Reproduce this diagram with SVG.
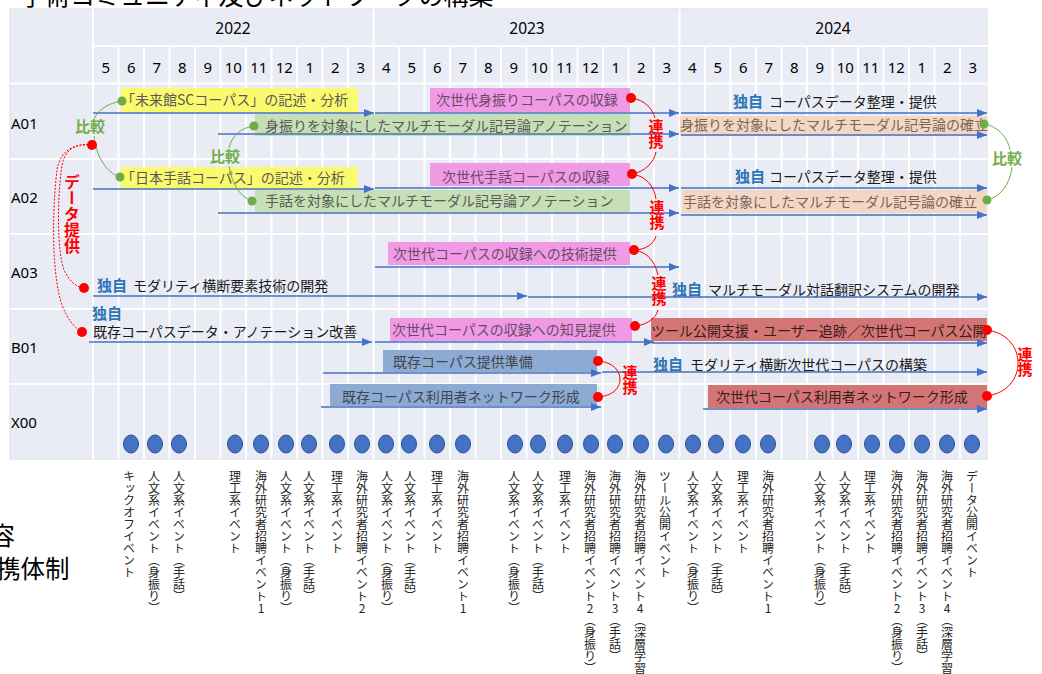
<svg xmlns="http://www.w3.org/2000/svg" width="1042" height="674" viewBox="0 0 1042 674">
<style>
.jp{font-family:"Noto Sans CJK JP","Noto Sans CJK SC",sans-serif}
.num{font-family:"Noto Sans","DejaVu Sans",sans-serif;font-size:15px;fill:#000;text-anchor:middle}
.lbl{font-family:"Noto Sans","DejaVu Sans",sans-serif;font-size:15px;fill:#000}
.bt{font-size:14px;fill:#595959}
.bm{font-size:14px;fill:#6a4a68}
.bp{font-size:14px;fill:#7a6556}
.br{font-size:14px;fill:#3a1c1c}
.bs{font-size:14px;fill:#3f4650}
.dk{font-size:14px;fill:#1a1a1a}
.dok{font-size:15px;font-weight:bold;fill:#2E75B6}
.hk{font-size:15px;font-weight:bold;fill:#70AD47;text-anchor:middle}
.rk{font-size:15px;font-weight:bold;fill:#FF0000;writing-mode:vertical-rl}
.ev{font-size:12px;fill:#262626;writing-mode:vertical-rl;text-orientation:upright}
.ln{stroke:#4472C4;stroke-width:1.5;fill:none;marker-end:url(#ah)}
.gc{fill:none;stroke:#70AD47;stroke-width:1}
.rc{fill:none;stroke:#FF0000;stroke-width:1}
.rd{fill:none;stroke:#FF0000;stroke-width:1;stroke-dasharray:2 1.5}
.gl{stroke:#FFFFFF;stroke-width:2}
.gd{fill:#70AD47}
.rdot{fill:#FF0000}
.evc{fill:#4472C4;stroke:#2F528F;stroke-width:1}
</style>
<defs>
<marker id="ah" viewBox="0 0 10 8" refX="10" refY="4" markerWidth="10" markerHeight="8" markerUnits="userSpaceOnUse" orient="auto"><path d="M0,0 L10,4 L0,8 z" fill="#4472C4"/></marker>
</defs>
<rect width="1042" height="674" fill="#FFFFFF"/>
<!-- cut-off slide texts -->
<text class="jp" x="20" y="5" font-size="25" fill="#000">学術コミュニティ及びネットワークの構築</text>
<text class="jp" x="-10" y="545" font-size="25" fill="#000">容</text>
<text class="jp" x="-4" y="578" font-size="24.5" fill="#000">携体制</text>
<!-- table -->
<g id="table">
<rect x="10" y="9" width="977" height="450" fill="#E9EBF5" stroke="#DCDEE6" stroke-width="1"/>
<g class="gl">
<line x1="93" y1="46" x2="987" y2="46"/>
<line x1="10" y1="83.5" x2="987" y2="83.5"/>
<line x1="10" y1="159" x2="987" y2="159"/>
<line x1="10" y1="234" x2="987" y2="234"/>
<line x1="10" y1="309" x2="987" y2="309"/>
<line x1="10" y1="384" x2="987" y2="384"/>
<line x1="93" y1="9" x2="93" y2="459"/>
<line x1="373.5" y1="9" x2="373.5" y2="459"/>
<line x1="679.5" y1="9" x2="679.5" y2="459"/>
<line x1="118.5" y1="46" x2="118.5" y2="459"/><line x1="144" y1="46" x2="144" y2="459"/><line x1="169.5" y1="46" x2="169.5" y2="459"/><line x1="195" y1="46" x2="195" y2="459"/><line x1="220.5" y1="46" x2="220.5" y2="459"/><line x1="246" y1="46" x2="246" y2="459"/><line x1="271.5" y1="46" x2="271.5" y2="459"/><line x1="297" y1="46" x2="297" y2="459"/><line x1="322.5" y1="46" x2="322.5" y2="459"/><line x1="348" y1="46" x2="348" y2="459"/>
<line x1="399" y1="46" x2="399" y2="459"/><line x1="424.5" y1="46" x2="424.5" y2="459"/><line x1="450" y1="46" x2="450" y2="459"/><line x1="475.5" y1="46" x2="475.5" y2="459"/><line x1="501" y1="46" x2="501" y2="459"/><line x1="526.5" y1="46" x2="526.5" y2="459"/><line x1="552" y1="46" x2="552" y2="459"/><line x1="577.5" y1="46" x2="577.5" y2="459"/><line x1="603" y1="46" x2="603" y2="459"/><line x1="628.5" y1="46" x2="628.5" y2="459"/><line x1="654" y1="46" x2="654" y2="459"/>
<line x1="705" y1="46" x2="705" y2="459"/><line x1="730.5" y1="46" x2="730.5" y2="459"/><line x1="756" y1="46" x2="756" y2="459"/><line x1="781.5" y1="46" x2="781.5" y2="459"/><line x1="807" y1="46" x2="807" y2="459"/><line x1="832.5" y1="46" x2="832.5" y2="459"/><line x1="858" y1="46" x2="858" y2="459"/><line x1="883.5" y1="46" x2="883.5" y2="459"/><line x1="909" y1="46" x2="909" y2="459"/><line x1="934.5" y1="46" x2="934.5" y2="459"/><line x1="960" y1="46" x2="960" y2="459"/>
</g>
<g class="num">
<text x="233" y="34" style="font-size:15.5px">2022</text><text x="527" y="34" style="font-size:15.5px">2023</text><text x="833" y="34" style="font-size:15.5px">2024</text>
<text x="105.8" y="73">5</text><text x="131.3" y="73">6</text><text x="156.8" y="73">7</text><text x="182.3" y="73">8</text><text x="207.8" y="73">9</text><text x="233.3" y="73">10</text><text x="258.8" y="73">11</text><text x="284.3" y="73">12</text><text x="309.8" y="73">1</text><text x="335.3" y="73">2</text><text x="360.8" y="73">3</text>
<text x="386.3" y="73">4</text><text x="411.8" y="73">5</text><text x="437.3" y="73">6</text><text x="462.8" y="73">7</text><text x="488.3" y="73">8</text><text x="513.8" y="73">9</text><text x="539.3" y="73">10</text><text x="564.8" y="73">11</text><text x="590.3" y="73">12</text><text x="615.8" y="73">1</text><text x="641.3" y="73">2</text><text x="666.8" y="73">3</text>
<text x="692.3" y="73">4</text><text x="717.8" y="73">5</text><text x="743.3" y="73">6</text><text x="768.8" y="73">7</text><text x="794.3" y="73">8</text><text x="819.8" y="73">9</text><text x="845.3" y="73">10</text><text x="870.8" y="73">11</text><text x="896.3" y="73">12</text><text x="921.8" y="73">1</text><text x="947.3" y="73">2</text><text x="972.8" y="73">3</text>
</g>
<g class="lbl">
<text x="11" y="129">A01</text>
<text x="11" y="203">A02</text>
<text x="11" y="278">A03</text>
<text x="11" y="353">B01</text>
<text x="11" y="428">X00</text>
</g>
</g>
<!-- task boxes -->
<g id="a01-yellow"><rect x="121" y="88" width="237" height="24" fill="#FAFA6E"/><text class="jp bt" x="121" y="105">「未来館SCコーパス」の記述・分析</text></g>
<g id="a01-green"><rect x="255" y="114" width="375" height="22" fill="#C6DFB4"/><text class="jp bt" x="265" y="131">身振りを対象にしたマルチモーダル記号論アノテーション</text></g>
<g id="a01-magenta"><rect x="430" y="88" width="200" height="24" fill="#F09AE6"/><text class="jp bm" x="436" y="105">次世代身振りコーパスの収録</text></g>
<g id="a01-peach"><rect x="680" y="116" width="307" height="20" fill="#F4D6C4"/><text class="jp bp" x="680" y="130">身振りを対象にしたマルチモーダル記号論の確立</text></g>
<g id="a02-yellow"><rect x="121" y="167" width="237" height="23" fill="#FAFA6E"/><text class="jp bt" x="121" y="183">「日本手話コーパス」の記述・分析</text></g>
<g id="a02-green"><rect x="255" y="190" width="375" height="22" fill="#C6DFB4"/><text class="jp bt" x="265" y="206">手話を対象にしたマルチモーダル記号論アノテーション</text></g>
<g id="a02-magenta"><rect x="430" y="163" width="200" height="23" fill="#F09AE6"/><text class="jp bm" x="442" y="182">次世代手話コーパスの収録</text></g>
<g id="a02-peach"><rect x="682" y="190" width="304" height="23" fill="#F4D6C4"/><text class="jp bp" x="683" y="207">手話を対象にしたマルチモーダル記号論の確立</text></g>
<g id="a03-magenta"><rect x="388" y="242" width="242" height="23" fill="#F09AE6"/><text class="jp bm" x="393" y="259">次世代コーパスの収録への技術提供</text></g>
<g id="b01-magenta"><rect x="390" y="318" width="242" height="23" fill="#F09AE6"/><text class="jp bm" x="392" y="335">次世代コーパスの収録への知見提供</text></g>
<g id="b01-red"><rect x="651" y="318" width="336" height="23" fill="#D47575"/><text class="jp br" x="651" y="336">ツール公開支援・ユーザー追跡／次世代コーパス公開</text></g>
<g id="b01-steel"><rect x="383" y="350" width="214" height="22" fill="#8DAAD3"/><text class="jp bs" x="393" y="367">既存コーパス提供準備</text></g>
<g id="x00-steel"><rect x="330" y="384" width="267" height="22" fill="#8DAAD3"/><text class="jp bs" x="342" y="402">既存コーパス利用者ネットワーク形成</text></g>
<g id="x00-red"><rect x="708" y="385" width="279" height="23" fill="#D47575"/><text class="jp br" x="716" y="402">次世代コーパス利用者ネットワーク形成</text></g>
<!-- independent labels -->
<g id="a01-own"><text class="jp dok" x="733" y="107">独自</text><text class="jp dk" x="769" y="107">コーパスデータ整理・提供</text></g>
<g id="a02-own"><text class="jp dok" x="735" y="182">独自</text><text class="jp dk" x="769" y="182">コーパスデータ整理・提供</text></g>
<g id="a03-own1"><text class="jp dok" x="97" y="291">独自</text><text class="jp dk" x="133" y="291">モダリティ横断要素技術の開発</text></g>
<g id="a03-own2"><text class="jp dok" x="672" y="295">独自</text><text class="jp dk" x="708" y="295">マルチモーダル対話翻訳システムの開発</text></g>
<g id="b01-own1"><text class="jp dok" x="92" y="319">独自</text><text class="jp dk" x="93" y="337">既存コーパスデータ・アノテーション改善</text></g>
<g id="b01-own2"><text class="jp dok" x="653" y="370">独自</text><text class="jp dk" x="690" y="370">モダリティ横断次世代コーパスの構築</text></g>
<!-- connectors -->
<g id="connectors">
<line class="ln" x1="93" y1="113" x2="374" y2="113"/>
<line class="ln" x1="375" y1="113" x2="679" y2="113"/>
<line class="ln" x1="681" y1="113" x2="987" y2="113"/>
<line class="ln" x1="218" y1="134" x2="679" y2="134"/>
<line class="ln" x1="681" y1="135" x2="987" y2="135"/>
<line class="ln" x1="93" y1="189" x2="374" y2="189"/>
<line class="ln" x1="375" y1="188" x2="679" y2="188"/>
<line class="ln" x1="681" y1="188" x2="987" y2="188"/>
<line class="ln" x1="218" y1="213" x2="679" y2="213"/>
<line class="ln" x1="681" y1="215" x2="987" y2="215"/>
<line class="ln" x1="375" y1="267" x2="679" y2="267"/>
<line class="ln" x1="93" y1="296" x2="527" y2="296"/>
<line class="ln" x1="528" y1="297" x2="987" y2="297"/>
<line class="ln" x1="89" y1="342" x2="372" y2="342"/>
<line class="ln" x1="375" y1="342" x2="654" y2="342"/>
<line class="ln" x1="652" y1="343" x2="987" y2="343"/>
<line class="ln" x1="323" y1="373" x2="601" y2="373"/>
<line class="ln" x1="602" y1="372" x2="987" y2="372"/>
<line class="ln" x1="321" y1="407" x2="601" y2="407"/>
<line class="ln" x1="703" y1="409" x2="987" y2="409"/>
<!-- comparison curves -->
<path class="gc" d="M122,101 C108,103 98,110 94,119"/>
<path class="gc" d="M94,136 C96,155 105,172 120,177"/>
<path class="gc" d="M254,126 C240,128 232,136 229,148"/>
<path class="gc" d="M229,166 C232,184 240,197 252,201"/>
<path class="gc" d="M984,124 C998,126 1008,138 1010,150"/>
<path class="gc" d="M1012,167 C1010,185 1000,197 987,200"/>
<!-- collaboration curves -->
<path class="rc" d="M631,98 C645,100 652,108 655,118"/>
<path class="rc" d="M656,152 C654,162 645,172 632,174"/>
<path class="rc" d="M632,174 C646,176 654,186 656,199"/>
<path class="rc" d="M656,236 C654,244 645,250 634,250"/>
<path class="rc" d="M634,250 C648,252 655,262 658,275"/>
<path class="rc" d="M658,310 C656,318 647,325 635,326"/>
<path class="rc" d="M598,361 C613,362 620,371 620,379 C620,388 613,396 598,397"/>
<path class="rc" d="M987,330 C1008,333 1018,348 1018,363 C1018,378 1008,393 987,396"/>
<!-- data provision curves -->
<path class="rd" d="M92,145 C75,143 65,150 62,165 C57,200 57,250 64,270 C70,282 76,287 84,288"/>
<path class="rd" d="M92,145 C72,143 60,152 57,170 C51,220 53,280 62,305 C67,318 74,328 82,332"/>
</g>
<!-- dots -->
<g id="dots">
<circle class="gd" cx="122" cy="101" r="4.5"/>
<circle class="gd" cx="254" cy="126" r="4.5"/>
<circle class="gd" cx="120" cy="177" r="4.5"/>
<circle class="gd" cx="252" cy="201" r="4.5"/>
<circle class="gd" cx="984" cy="124" r="4.5"/>
<circle class="gd" cx="987" cy="200" r="4.5"/>
<circle class="rdot" cx="631" cy="98" r="5"/>
<circle class="rdot" cx="632" cy="174" r="5"/>
<circle class="rdot" cx="634" cy="250" r="5"/>
<circle class="rdot" cx="635" cy="326" r="5"/>
<circle class="rdot" cx="598" cy="361" r="5"/>
<circle class="rdot" cx="598" cy="397" r="5"/>
<circle class="rdot" cx="987" cy="330" r="5"/>
<circle class="rdot" cx="987" cy="396" r="5"/>
<circle class="rdot" cx="92" cy="145" r="5"/>
<circle class="rdot" cx="84" cy="288" r="5"/>
<circle class="rdot" cx="82" cy="332" r="5"/>
</g>
<!-- relation labels -->
<g id="rel-labels">
<text class="jp hk" x="90" y="132">比較</text>
<text class="jp hk" x="225" y="162">比較</text>
<text class="jp hk" x="1007" y="164">比較</text>
<text class="jp rk" x="656" y="119">連携</text>
<text class="jp rk" x="657" y="200">連携</text>
<text class="jp rk" x="659" y="276">連携</text>
<text class="jp rk" x="630" y="365">連携</text>
<text class="jp rk" x="1025" y="347">連携</text>
<text class="jp rk" x="72" y="174" style="font-size:16px">データ提供</text>
</g>
<!-- events -->
<g id="events">
<ellipse class="evc" cx="131" cy="444" rx="7.5" ry="9"/><ellipse class="evc" cx="155" cy="444" rx="7.5" ry="9"/><ellipse class="evc" cx="179" cy="444" rx="7.5" ry="9"/>
<ellipse class="evc" cx="235" cy="444" rx="7.5" ry="9"/><ellipse class="evc" cx="261" cy="444" rx="7.5" ry="9"/><ellipse class="evc" cx="286" cy="444" rx="7.5" ry="9"/><ellipse class="evc" cx="309" cy="444" rx="7.5" ry="9"/><ellipse class="evc" cx="337" cy="444" rx="7.5" ry="9"/><ellipse class="evc" cx="362" cy="444" rx="7.5" ry="9"/><ellipse class="evc" cx="386" cy="444" rx="7.5" ry="9"/><ellipse class="evc" cx="409" cy="444" rx="7.5" ry="9"/><ellipse class="evc" cx="437" cy="444" rx="7.5" ry="9"/><ellipse class="evc" cx="463" cy="444" rx="7.5" ry="9"/>
<ellipse class="evc" cx="515" cy="444" rx="7.5" ry="9"/><ellipse class="evc" cx="538" cy="444" rx="7.5" ry="9"/><ellipse class="evc" cx="565" cy="444" rx="7.5" ry="9"/><ellipse class="evc" cx="591" cy="444" rx="7.5" ry="9"/><ellipse class="evc" cx="615" cy="444" rx="7.5" ry="9"/><ellipse class="evc" cx="641" cy="444" rx="7.5" ry="9"/><ellipse class="evc" cx="666" cy="444" rx="7.5" ry="9"/><ellipse class="evc" cx="693" cy="444" rx="7.5" ry="9"/><ellipse class="evc" cx="716" cy="444" rx="7.5" ry="9"/><ellipse class="evc" cx="743" cy="444" rx="7.5" ry="9"/><ellipse class="evc" cx="768" cy="444" rx="7.5" ry="9"/>
<ellipse class="evc" cx="822" cy="444" rx="7.5" ry="9"/><ellipse class="evc" cx="844" cy="444" rx="7.5" ry="9"/><ellipse class="evc" cx="872" cy="444" rx="7.5" ry="9"/><ellipse class="evc" cx="897" cy="444" rx="7.5" ry="9"/><ellipse class="evc" cx="922" cy="444" rx="7.5" ry="9"/><ellipse class="evc" cx="947" cy="444" rx="7.5" ry="9"/><ellipse class="evc" cx="972" cy="444" rx="7.5" ry="9"/>
</g>
<g id="event-labels">
<text class="jp ev" x="129" y="470">キックオフイベント</text>
<text class="jp ev" x="154" y="470">人文系イベント（身振り）</text>
<text class="jp ev" x="179" y="470">人文系イベント（手話）</text>
<text class="jp ev" x="235" y="470">理工系イベント</text>
<text class="jp ev" x="261" y="470">海外研究者招聘イベント1</text>
<text class="jp ev" x="286" y="470">人文系イベント（身振り）</text>
<text class="jp ev" x="309" y="470">人文系イベント（手話）</text>
<text class="jp ev" x="337" y="470">理工系イベント</text>
<text class="jp ev" x="362" y="470">海外研究者招聘イベント2</text>
<text class="jp ev" x="387" y="470">人文系イベント（身振り）</text>
<text class="jp ev" x="410" y="470">人文系イベント（手話）</text>
<text class="jp ev" x="437" y="470">理工系イベント</text>
<text class="jp ev" x="463" y="470">海外研究者招聘イベント1</text>
<text class="jp ev" x="514" y="470">人文系イベント（身振り）</text>
<text class="jp ev" x="538" y="470">人文系イベント（手話）</text>
<text class="jp ev" x="565" y="470">理工系イベント</text>
<text class="jp ev" x="590" y="470">海外研究者招聘イベント2（身振り）</text>
<text class="jp ev" x="615" y="470">海外研究者招聘イベント3（手話）</text>
<text class="jp ev" x="640" y="470">海外研究者招聘イベント4（深層学習</text>
<text class="jp ev" x="665" y="470">ツール公開イベント</text>
<text class="jp ev" x="693" y="470">人文系イベント（身振り）</text>
<text class="jp ev" x="717" y="470">人文系イベント（手話）</text>
<text class="jp ev" x="743" y="470">理工系イベント</text>
<text class="jp ev" x="768" y="470">海外研究者招聘イベント1</text>
<text class="jp ev" x="820" y="470">人文系イベント（身振り）</text>
<text class="jp ev" x="845" y="470">人文系イベント（手話）</text>
<text class="jp ev" x="870" y="470">理工系イベント</text>
<text class="jp ev" x="897" y="470">海外研究者招聘イベント2（身振り）</text>
<text class="jp ev" x="922" y="470">海外研究者招聘イベント3（手話）</text>
<text class="jp ev" x="947" y="470">海外研究者招聘イベント4（深層学習</text>
<text class="jp ev" x="972" y="470">データ公開イベント</text>
</g>
</svg>
